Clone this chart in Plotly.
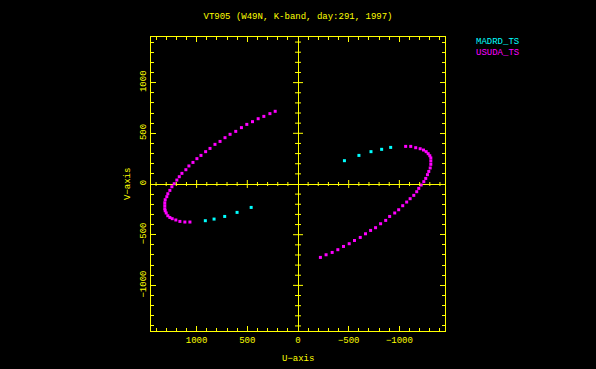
import plotly.graph_objects as go

# ---- data (u, v in wavelengths) ----
madrd_u = [914, 828, 723, 601, 462, -458, -601, -720, -825, -914]
madrd_v = [-362, -346, -320, -280, -231, 230, 282, 319, 342, 361]

usuda_u = [225, 277, 337, 393, 449, 505, 558, 614, 670, 720, 769, 819, 868, 911, 957, 997,
           1036, 1076, 1106, 1145, 1171, 1195, 1221, 1244, 1264, 1284, 1294, 1310, 1314, 1314,
           1314, 1310, 1300, 1284, 1264, 1241, 1205, 1165, 1116, 1066,
           -1062, -1112, -1161, -1205, -1238, -1264, -1284, -1300, -1310, -1310, -1310, -1304,
           -1290, -1277, -1260, -1241, -1215, -1191, -1171, -1142, -1106, -1072, -1033, -993,
           -954, -904, -865, -815, -765, -716, -666, -614, -557, -505, -449, -393, -337, -277, -221]
usuda_v = [717, 694, 667, 644, 615, 588, 556, 519, 490, 457, 420, 391, 351, 319, 282, 250,
           213, 178, 141, 105, 72, 39, 3, -27, -63, -96, -125, -155, -185, -214,
           -244, -264, -286, -313, -330, -342, -355, -369, -375, -375,
           371, 371, 358, 348, 335, 319, 299, 279, 257, 227, 194, 158,
           124, 92, 55, 23, -10, -43, -76, -112, -145, -178, -214, -254,
           -286, -320, -359, -392, -431, -458, -491, -527, -557, -589, -616, -648, -675, -698, -724]

x_ticks = [1000, 500, 0, -500, -1000]
y_ticks = [-1000, -500, 0, 500, 1000]
series_names = ["MADRD_TS", "USUDA_TS"]
series_colors = ["#00ffff", "#ff00ff"]
title_text = "VT905 (W49N, K-band, day:291, 1997)"

# ---- geometry ----
W, H = 596, 369
L, R, T, B = 151, 445, 37, 331
RANGE = 1450
YEL = "#ffff00"
FAM = "Liberation Mono"
FONT = dict(family=FAM, size=9, color=YEL)

def px(x):
    return (x - L) / (R - L)

def py(y):
    return (B - y) / (B - T)

fig = go.Figure()
fig.add_trace(go.Scatter(x=madrd_u, y=madrd_v, mode="markers", name=series_names[0],
                         marker=dict(symbol="square", size=3, color=series_colors[0],
                                     line=dict(width=0))))
fig.add_trace(go.Scatter(x=usuda_u, y=usuda_v, mode="markers", name=series_names[1],
                         marker=dict(symbol="square", size=3, color=series_colors[1],
                                     line=dict(width=0))))

axis_common = dict(
    showgrid=False, zeroline=True, zerolinecolor=YEL, zerolinewidth=1,
    showline=True, linecolor=YEL, linewidth=1, mirror="allticks",
    ticks="inside", ticklen=5, tickcolor=YEL, tickwidth=1,
    minor=dict(dtick=100, ticks="inside", ticklen=3, tickcolor=YEL, tickwidth=1),
    tickfont=FONT, tickmode="array",
)
fig.update_xaxes(range=[RANGE, -RANGE], tickvals=x_ticks,
                 ticktext=[str(v).replace("-", "\u2212") for v in x_ticks], **axis_common)
fig.update_yaxes(range=[-RANGE, RANGE], tickvals=y_ticks, tickangle=-90,
                 ticktext=[str(v).replace("-", "\u2212") for v in y_ticks], **axis_common)

# ticks crossing the zero lines
u_per_px = 2 * RANGE / (R - L)
shapes = []
for k in range(-14, 15):
    if k == 0:
        continue
    v = k * 100
    half = (4 if k % 5 == 0 else 2) * u_per_px
    shapes.append(dict(type="line", xref="x", yref="y", x0=v, x1=v, y0=-half, y1=half,
                       line=dict(color=YEL, width=1)))
    half2 = (5 if k % 5 == 0 else 3) * u_per_px
    shapes.append(dict(type="line", xref="x", yref="y", x0=-half2, x1=half2, y0=v, y1=v,
                       line=dict(color=YEL, width=1)))

annotations = [
    dict(text="U\u2212axis", xref="paper", yref="paper", x=px(298), y=py(359),
         showarrow=False, font=FONT, xanchor="center", yanchor="middle"),
    dict(text="V\u2212axis", xref="paper", yref="paper", x=px(128), y=py(184),
         showarrow=False, font=FONT, textangle=-90, xanchor="center", yanchor="middle"),
]
for i, (name, col) in enumerate(zip(series_names, series_colors)):
    annotations.append(dict(text=name, xref="paper", yref="paper", x=px(474), y=py(42 + 10.7 * i),
                            showarrow=False, font=dict(family=FAM, size=9, color=col),
                            xanchor="left", yanchor="middle"))

fig.update_layout(
    width=W, height=H, paper_bgcolor="black", plot_bgcolor="black",
    margin=dict(l=L, r=W - R, t=T, b=H - B, pad=0),
    showlegend=False,
    title=dict(text=title_text, x=0.5, xanchor="center", y=1 - 16 / H, yanchor="middle",
               yref="container", font=FONT),
    shapes=shapes, annotations=annotations,
)

fig.write_html("out.html", config={"displayModeBar": False},
               post_script="document.body.style.margin='0';document.body.style.background='black';")
